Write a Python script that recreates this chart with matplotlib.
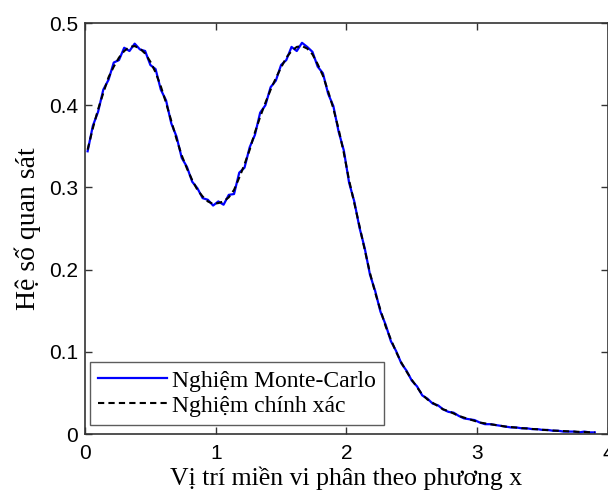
import matplotlib
matplotlib.use("Agg")
import matplotlib.pyplot as plt

x_grid = [0.02 + 0.04 * k for k in range(98)]

exact_y = [0.346, 0.372, 0.395, 0.415, 0.434, 0.447, 0.458, 0.466, 0.471, 0.472,
           0.469, 0.463, 0.453, 0.440, 0.423, 0.403, 0.381, 0.359, 0.339, 0.323,
           0.309, 0.297, 0.289, 0.283, 0.280, 0.281, 0.283, 0.288, 0.297, 0.312,
           0.328, 0.346, 0.367, 0.386, 0.403, 0.419, 0.433, 0.446, 0.458, 0.466,
           0.471, 0.472, 0.469, 0.462, 0.450, 0.436, 0.417, 0.396, 0.371, 0.342,
           0.309, 0.281, 0.253, 0.224, 0.196, 0.172, 0.151, 0.131, 0.115, 0.100,
           0.087, 0.076, 0.066, 0.057, 0.048, 0.042, 0.038, 0.034, 0.030, 0.028,
           0.025, 0.022, 0.020, 0.018, 0.016, 0.014, 0.013, 0.012, 0.011, 0.010,
           0.009, 0.0085, 0.0078, 0.0072, 0.0067, 0.0062, 0.0057, 0.0052, 0.0047, 0.0043,
           0.0039, 0.0036, 0.0033, 0.0030, 0.0027, 0.0024, 0.0022, 0.0020]

mc_y = [0.344, 0.375, 0.392, 0.419, 0.431, 0.452, 0.455, 0.470, 0.466, 0.475,
        0.468, 0.466, 0.449, 0.444, 0.419, 0.406, 0.378, 0.362, 0.336, 0.325,
        0.307, 0.299, 0.287, 0.285, 0.278, 0.283, 0.279, 0.291, 0.292, 0.318,
        0.324, 0.349, 0.364, 0.391, 0.400, 0.422, 0.430, 0.449, 0.455, 0.471,
        0.466, 0.476, 0.471, 0.465, 0.447, 0.439, 0.414, 0.399, 0.368, 0.345,
        0.306, 0.283, 0.251, 0.226, 0.194, 0.174, 0.149, 0.133, 0.113, 0.101,
        0.086, 0.077, 0.065, 0.058, 0.047, 0.043, 0.037, 0.035, 0.030, 0.027,
        0.026, 0.022, 0.019, 0.018, 0.017, 0.014, 0.012, 0.012, 0.011, 0.010,
        0.009, 0.008, 0.008, 0.007, 0.007, 0.006, 0.006, 0.005, 0.005, 0.004,
        0.004, 0.003, 0.003, 0.003, 0.002, 0.003, 0.002, 0.002]

x_ticks = [0, 1, 2, 3, 4]
y_ticks = [0, 0.1, 0.2, 0.3, 0.4, 0.5]
y_tick_labels = ["0", "0.1", "0.2", "0.3", "0.4", "0.5"]
labels = ["Nghiệm Monte-Carlo", "Nghiệm chính xác"]

fig = plt.figure(figsize=(6.08, 4.91), dpi=100)
ax = fig.add_axes([0.1398, 0.116, 0.860, 0.837])

ax.plot(x_grid, mc_y, color="#0000ff", lw=1.6, label=labels[0])
ax.plot(x_grid, exact_y, color="black", lw=1.5, linestyle=(0, (3, 2)), label=labels[1])

ax.set_xlim(0, 4)
ax.set_ylim(0, 0.5)
ax.set_xticks(x_ticks)
ax.set_yticks(y_ticks)
ax.set_yticklabels(y_tick_labels)
ax.tick_params(direction="in", top=True, right=True, length=5, width=1,
               labelsize=15, color="#333333")
ax.tick_params(axis="x", pad=7)
ax.tick_params(axis="y", pad=5)
for lab in ax.get_xticklabels() + ax.get_yticklabels():
    lab.set_fontfamily("Liberation Sans")
for s in ax.spines.values():
    s.set_color("#333333")
    s.set_linewidth(1.2)

ax.set_xlabel("Vị trí miền vi phân theo phương x", fontfamily="Liberation Serif",
              fontsize=18.5, labelpad=3)
ax.set_ylabel("Hệ số quan sát", fontfamily="Liberation Serif", fontsize=20, labelpad=6)

leg = ax.legend(loc="lower left", bbox_to_anchor=(0.01, 0.022),
                prop={"family": "Liberation Serif", "size": 17},
                frameon=True, fancybox=False, edgecolor="#333333", borderpad=0.35,
                labelspacing=0.15, handlelength=2.9, handletextpad=0.2, borderaxespad=0)
leg.get_frame().set_linewidth(1.0)

fig.savefig("out.png", dpi=100)
